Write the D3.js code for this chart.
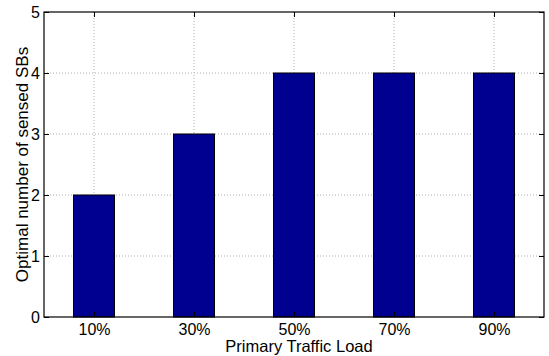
<!DOCTYPE html>
<html>
<head>
<meta charset="utf-8">
<script src="https://cdn.jsdelivr.net/npm/d3@7"></script>
<style>
  html, body { margin: 0; padding: 0; background: #fff; }
  svg { display: block; }
  text { font-family: "Liberation Sans", Arial, Helvetica, sans-serif; fill: #000; }
</style>
</head>
<body>
<svg id="chart" width="549" height="356"></svg>
<script>
// Optimal number of sensed sub-bands versus primary traffic load
const categories = ["10%", "30%", "50%", "70%", "90%"];
const values = [2, 3, 4, 4, 4];
const yTicks = [0, 1, 2, 3, 4, 5];

const W = 549, H = 356;
const margin = { left: 44, right: 5, top: 12, bottom: 39 };
const plotW = W - margin.left - margin.right;
const plotH = H - margin.top - margin.bottom;

const svg = d3.select("#chart");
const g = svg.append("g").attr("transform", `translate(${margin.left},${margin.top})`);

// Numeric x positions 1..N with half-unit padding on each side
const x = d3.scaleLinear().domain([0.5, categories.length + 0.5]).range([0, plotW]);
const y = d3.scaleLinear().domain([0, 5]).range([plotH, 0]);
const barW = 0.41;

// Dotted grid
const grid = g.append("g").attr("class", "grid");
grid.selectAll("line.gy").data(yTicks.slice(1, -1)).join("line")
  .attr("x1", 0).attr("x2", plotW)
  .attr("y1", d => y(d)).attr("y2", d => y(d))
  .attr("stroke", "#b0b0b0").attr("stroke-width", 1).attr("stroke-dasharray", "1,2");
grid.selectAll("line.gx").data(categories).join("line")
  .attr("x1", (d, i) => x(i + 1)).attr("x2", (d, i) => x(i + 1))
  .attr("y1", 0).attr("y2", plotH)
  .attr("stroke", "#b0b0b0").attr("stroke-width", 1).attr("stroke-dasharray", "1,2");

// Bars
g.selectAll("rect.bar").data(values).join("rect")
  .attr("class", "bar")
  .attr("x", (d, i) => x(i + 1 - barW / 2))
  .attr("width", x(barW) - x(0))
  .attr("y", d => y(d))
  .attr("height", d => y(0) - y(d))
  .attr("fill", "#000090")
  .attr("stroke", "#000").attr("stroke-width", 1);

// Axes with inward ticks
const xAxis = d3.axisBottom(x).tickValues(d3.range(1, categories.length + 1))
  .tickFormat(d => categories[d - 1]).tickSizeInner(-5).tickSizeOuter(0).tickPadding(8);
const yAxis = d3.axisLeft(y).tickValues(yTicks).tickFormat(d3.format("d"))
  .tickSizeInner(-5).tickSizeOuter(0).tickPadding(4);

const gx = g.append("g").attr("transform", `translate(0,${plotH})`).call(xAxis);
const gy = g.append("g").call(yAxis);
// Mirrored ticks on top and right edges
const gxTop = g.append("g").call(d3.axisTop(x).tickValues(d3.range(1, categories.length + 1))
  .tickFormat("").tickSizeInner(-5).tickSizeOuter(0));
const gyRight = g.append("g").attr("transform", `translate(${plotW},0)`)
  .call(d3.axisRight(y).tickValues(yTicks).tickFormat("").tickSizeInner(-5).tickSizeOuter(0));

[gx, gy, gxTop, gyRight].forEach(a => {
  a.select(".domain").remove();
  a.selectAll(".tick line").attr("stroke", "#000");
  a.selectAll("text").attr("font-size", 16).attr("font-family", "Liberation Sans, Arial, sans-serif");
});
gx.selectAll("text").attr("dy", null).attr("y", 18).attr("dominant-baseline", "auto");
gy.selectAll("text").attr("dy", "0.36em");

// Box
g.append("rect").attr("x", 0).attr("y", 0).attr("width", plotW).attr("height", plotH)
  .attr("fill", "none").attr("stroke", "#000").attr("stroke-width", 1.2);

// Axis titles
svg.append("text").attr("x", margin.left + plotW / 2 + 5).attr("y", 352)
  .attr("text-anchor", "middle").attr("font-size", 16.5).text("Primary Traffic Load");
svg.append("text")
  .attr("transform", `translate(28,${margin.top + plotH / 2}) rotate(-90)`)
  .attr("text-anchor", "middle").attr("font-size", 17).text("Optimal number of sensed SBs");
</script>
</body>
</html>
